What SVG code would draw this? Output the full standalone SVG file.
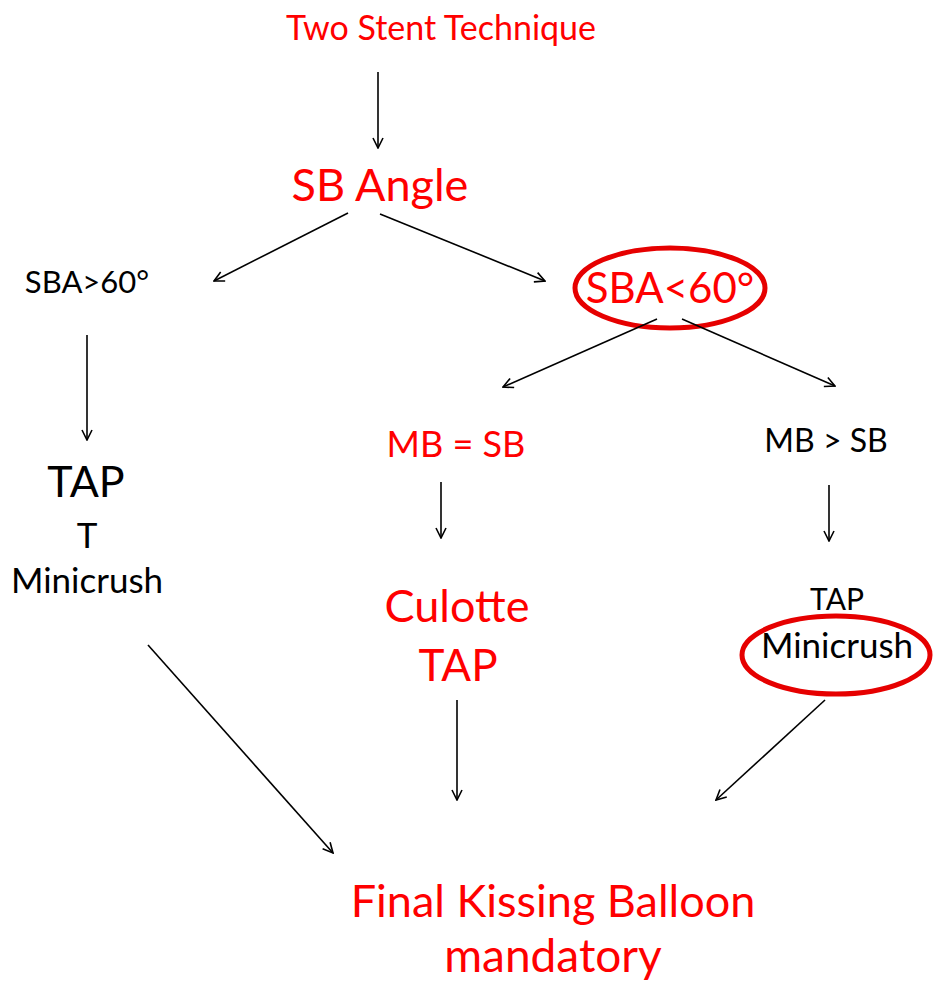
<svg xmlns="http://www.w3.org/2000/svg" width="948" height="1001" viewBox="0 0 948 1001">
<defs>
<marker id="ah" viewBox="0 0 12 12" refX="11" refY="6" markerWidth="12" markerHeight="12" markerUnits="userSpaceOnUse" orient="auto">
<path d="M1,1 L11,6 L1,11" fill="none" stroke="#000" stroke-width="1.6"/>
</marker>
<style>
text{font-family:Lato,"Liberation Sans",sans-serif;text-anchor:middle}
.r{fill:#ff0000}
.k{fill:#000}
.c line{stroke:#000;stroke-width:1.6;marker-end:url(#ah)}
.ring{fill:none;stroke:#e60000;stroke-width:5}
</style>
</defs>
<rect width="948" height="1001" fill="#fff"/>
<g id="n-two"><text class="r" x="441" y="40" font-size="34">Two Stent Technique</text></g>
<g id="n-sbangle"><text class="r" x="380" y="201" font-size="45">SB Angle</text></g>
<g id="n-sbagt"><text class="k" x="87" y="293" font-size="31">SBA&gt;60°</text></g>
<g id="n-sbalt"><ellipse class="ring" cx="670" cy="288" rx="95" ry="40"/><text class="r" x="670" y="303" font-size="42">SBA&lt;60°</text></g>
<g id="n-tap1"><text class="k" x="86" y="497" font-size="43">TAP</text><text class="k" x="87" y="548" font-size="35">T</text><text class="k" x="87" y="593" font-size="35">Minicrush</text></g>
<g id="n-mbeq"><text class="r" x="456" y="457" font-size="36">MB = SB</text></g>
<g id="n-mbgt"><text class="k" x="826" y="452" font-size="32">MB &gt; SB</text></g>
<g id="n-culotte"><text class="r" x="457" y="622" font-size="45">Culotte</text><text class="r" x="458" y="681" font-size="44">TAP</text></g>
<g id="n-tap2"><text class="k" x="837" y="610" font-size="30">TAP</text><ellipse class="ring" cx="836" cy="655" rx="94" ry="39"/><text class="k" x="837" y="658" font-size="35">Minicrush</text></g>
<g id="n-final"><text class="r" x="553" y="917" font-size="45">Final Kissing Balloon</text><text class="r" x="553" y="972" font-size="46">mandatory</text></g>
<g class="c" id="connectors">
<line x1="378" y1="72" x2="378" y2="148"/>
<line x1="348" y1="213" x2="214" y2="281"/>
<line x1="380" y1="214" x2="545" y2="281"/>
<line x1="87" y1="335" x2="87" y2="440"/>
<line x1="657" y1="319" x2="503" y2="387"/>
<line x1="682" y1="319" x2="835" y2="386"/>
<line x1="441" y1="482" x2="441" y2="538"/>
<line x1="829" y1="485" x2="829" y2="541"/>
<line x1="148" y1="645" x2="333" y2="853"/>
<line x1="457" y1="700" x2="457" y2="800"/>
<line x1="825" y1="700" x2="716" y2="800"/>
</g>
</svg>
